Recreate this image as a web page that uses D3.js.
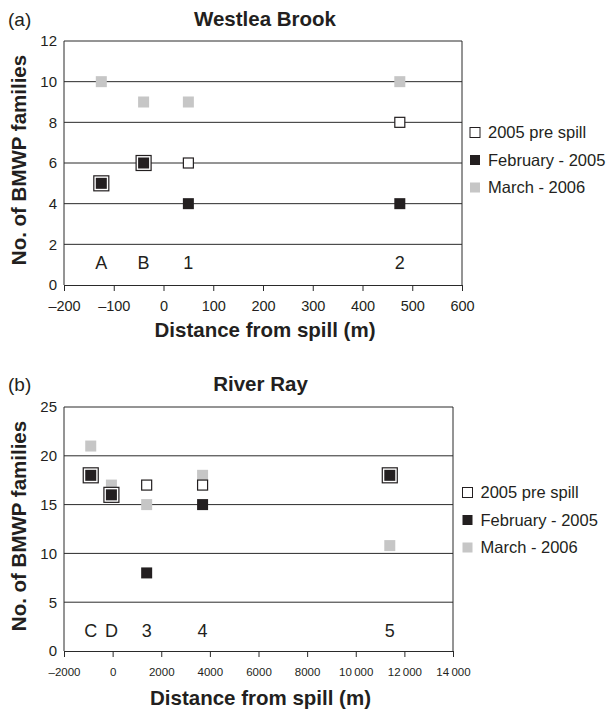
<!DOCTYPE html>
<html><head><meta charset="utf-8">
<script src="https://cdn.jsdelivr.net/npm/d3@7"></script>
<style>body{margin:0;background:#fff;} text{font-family:"Liberation Sans",Arial,sans-serif;fill:#231f20;}</style>
</head><body>
<svg id="c" width="609" height="709"></svg>
<script>
// ---- Data ----
const seriesNames = ["2005 pre spill", "February - 2005", "March - 2006"];
// Panel (a) Westlea Brook
const sitesA = ["A", "B", "1", "2"];
const distA = [-125, -40, 50, 475];
const preA = [5, 6, 6, 8];
const febA = [5, 6, 4, 4];
const marA = [10, 9, 9, 10];
const xTicksA = [-200, -100, 0, 100, 200, 300, 400, 500, 600];
const yTicksA = [0, 2, 4, 6, 8, 10, 12];
// Panel (b) River Ray
const sitesB = ["C", "D", "3", "4", "5"];
const distB = [-900, -50, 1400, 3700, 11400];
const preB = [18, 16, 17, 17, 18];
const febB = [18, 16, 8, 15, 18];
const marB = [21, 17, 15, 18, 10.8];
const xTicksB = [-2000, 0, 2000, 4000, 6000, 8000, 10000, 12000, 14000];
const yTicksB = [0, 5, 10, 15, 20, 25];

const BLACK = "#231f20", GRAY = "#c6c6c6", LINE = "#2a2a2a";
const FONT = "Liberation Sans, Arial, sans-serif";
const svg = d3.select("#c");

function fmtB(v){
  const s = Math.abs(v) >= 10000 ? d3.format(",")(Math.abs(v)).replace(/,/g, "\u2009") : String(Math.abs(v));
  return (v < 0 ? "\u2013" : "") + s;
}
function fmtA(v){ return (v < 0 ? "\u2013" : "") + Math.abs(v); }

function panel(o){
  const g = svg.append("g");
  const x = d3.scaleLinear().domain(o.xDomain).range([o.left, o.right]);
  const y = d3.scaleLinear().domain(o.yDomain).range([o.bottom, o.top]);
  // gridlines
  g.append("g").selectAll("line").data(o.yTicks.slice(1)).join("line")
    .attr("x1", o.left).attr("x2", o.right)
    .attr("y1", d => y(d)).attr("y2", d => y(d))
    .attr("stroke", LINE).attr("stroke-width", 1);
  // frame left/right
  g.append("line").attr("x1", o.left).attr("x2", o.left).attr("y1", o.top).attr("y2", o.bottom).attr("stroke", LINE);
  g.append("line").attr("x1", o.right).attr("x2", o.right).attr("y1", o.top).attr("y2", o.bottom).attr("stroke", LINE);
  // y axis labels
  const ya = d3.axisLeft(y).tickValues(o.yTicks).tickSize(0).tickPadding(7);
  const yg = g.append("g").attr("transform", `translate(${o.left},0)`).call(ya);
  yg.select(".domain").remove();
  yg.selectAll("text").style("font-size", "15px").style("font-family", FONT).attr("fill", BLACK);
  // x axis
  const xa = d3.axisBottom(x).tickValues(o.xTicks).tickSize(6).tickSizeOuter(0).tickPadding(o.tickPad).tickFormat(o.fmt);
  const xg = g.append("g").attr("transform", `translate(0,${o.bottom})`).call(xa);
  xg.select(".domain").attr("stroke", LINE);
  xg.selectAll(".tick line").attr("stroke", LINE);
  xg.selectAll("text").style("font-size", o.tickFont + "px").style("font-family", FONT).attr("fill", BLACK);
  // site labels
  g.append("g").selectAll("text").data(o.sites).join("text")
    .attr("x", (d, i) => x(o.dist[i])).attr("y", o.bottom - o.siteOff)
    .attr("text-anchor", "middle").style("font-size", "18px").text(d => d);
  // markers: March first, then pre, then Feb
  const mg = g.append("g");
  mg.selectAll(".mar").data(o.mar).join("rect").attr("class", "mar")
    .attr("x", (d, i) => x(o.dist[i]) - 5.5).attr("y", d => y(d) - 5.5)
    .attr("width", 11).attr("height", 11).attr("fill", GRAY);
  mg.selectAll(".pre").data(o.pre).join("rect").attr("class", "pre")
    .each(function(d, i){
      const s = (d === o.feb[i]) ? 15 : 10;
      d3.select(this).attr("x", x(o.dist[i]) - s/2).attr("y", y(d) - s/2)
        .attr("width", s).attr("height", s);
    })
    .attr("fill", "#fff").attr("stroke", BLACK).attr("stroke-width", 1.2);
  mg.selectAll(".feb").data(o.feb).join("rect").attr("class", "feb")
    .attr("x", (d, i) => x(o.dist[i]) - 5.5).attr("y", d => y(d) - 5.5)
    .attr("width", 11).attr("height", 11).attr("fill", BLACK);
  // titles
  g.append("text").attr("x", 8).attr("y", o.titleY).style("font-size", "19px").text(o.tag);
  g.append("text").attr("x", (o.left + o.right) / 2 + 2).attr("y", o.titleY).attr("text-anchor", "middle")
    .style("font-size", "20.5px").style("font-weight", "bold").text(o.title);
  g.append("text").attr("x", (o.left + o.right) / 2 + 2).attr("y", o.xTitleY).attr("text-anchor", "middle")
    .style("font-size", "20.5px").style("font-weight", "bold").text("Distance from spill (m)");
  g.append("text").attr("transform", `translate(26,${(o.top + o.bottom) / 2 - 3}) rotate(-90)`).attr("text-anchor", "middle")
    .style("font-size", "20.5px").style("font-weight", "bold").text("No. of BMWP families");
  // legend
  const lg = g.append("g");
  seriesNames.forEach((n, i) => {
    const by = o.legY + i * 27.5;
    const r = lg.append("rect").attr("x", o.legX - 5).attr("y", by - 10.5).attr("width", 10).attr("height", 10);
    if (i === 0) r.attr("fill", "#fff").attr("stroke", BLACK).attr("stroke-width", 1);
    else r.attr("fill", i === 1 ? BLACK : GRAY);
    lg.append("text").attr("x", o.legX + 13).attr("y", by).style("font-size", "16.5px").text(n);
  });
}

panel({ xDomain: [-200, 600], yDomain: [0, 12], left: 64, right: 462, top: 41, bottom: 285,
  xTicks: xTicksA, yTicks: yTicksA, fmt: fmtA, tickFont: 14.5, tickPad: 10, xTitleY: 337, titleY: 26, siteOff: 16,
  sites: sitesA, dist: distA, pre: preA, feb: febA, mar: marA,
  tag: "(a)", title: "Westlea Brook", legX: 475, legY: 138 });

panel({ xDomain: [-2000, 14000], yDomain: [0, 25], left: 64, right: 453, top: 407, bottom: 651,
  xTicks: xTicksB, yTicks: yTicksB, fmt: fmtB, tickFont: 11.5, tickPad: 11, xTitleY: 705, titleY: 391, siteOff: 14,
  sites: sitesB, dist: distB, pre: preB, feb: febB, mar: marB,
  tag: "(b)", title: "River Ray", legX: 467.5, legY: 498 });
</script>
</body></html>
